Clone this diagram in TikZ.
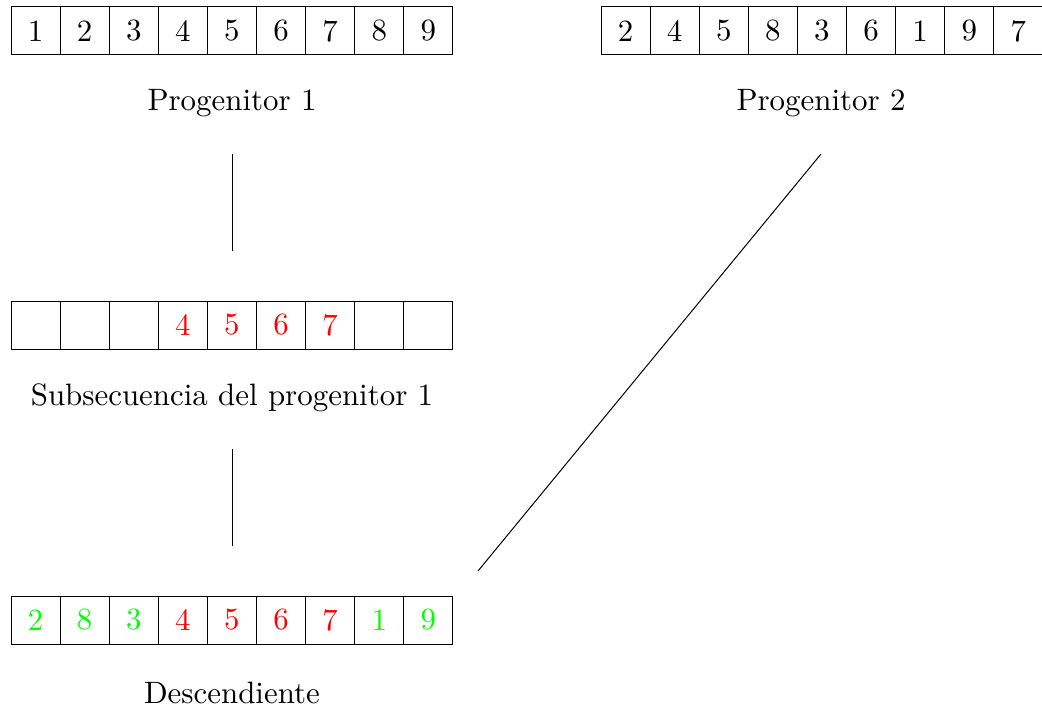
\documentclass[tikz,border=0pt]{standalone}
\usepackage{graphicx}
\definecolor{pureRed}{RGB}{255,0,0}
\definecolor{pureGreen}{RGB}{0,255,0}
\newcommand{\bigtxt}[1]{\scalebox{1.546}{\fontsize{10}{12}\selectfont #1}}
\begin{document}
\begin{tikzpicture}[x=0.5pt,y=-0.5pt,
  cell/.style={draw, line width=0.5pt, minimum width=24.55pt, minimum height=24pt, inner sep=0pt},
  lab/.style={inner sep=0pt},
  conn/.style={line width=0.5pt}]
\useasboundingbox (0,0) rectangle (1042,717);
% Progenitor 1
\foreach \v [count=\i] in {1,2,3,4,5,6,7,8,9}
  \node[cell] (a\i) at ({11+49.1*(\i-0.5)},31) {\bigtxt{\v}};
% Progenitor 2
\foreach \v [count=\i] in {2,4,5,8,3,6,1,9,7}
  \node[cell] (b\i) at ({601+49.1*(\i-0.5)},31) {\bigtxt{\v}};
% Subsequence
\foreach \v [count=\i] in {{},{},{},4,5,6,7,{},{}}
  \node[cell, text=pureRed] (s\i) at ({11+49.1*(\i-0.5)},325) {\bigtxt{\v}};
% Offspring
\foreach \v/\c [count=\i] in {2/pureGreen,8/pureGreen,3/pureGreen,4/pureRed,5/pureRed,6/pureRed,7/pureRed,1/pureGreen,9/pureGreen}
  \node[cell, text=\c] (d\i) at ({11+49.1*(\i-0.5)},620) {\bigtxt{\v}};
% Labels
\node[lab] (l1) at (232,103) {\bigtxt{Progenitor 1}};
\node[lab] (l2) at (821,103) {\bigtxt{Progenitor 2}};
\node[lab] (l3) at (232,398) {\bigtxt{Subsecuencia del progenitor 1}};
\node[lab] (l4) at (232,693) {\bigtxt{Descendiente}};
% Connectors
\coordinate (p1a) at (232,154);
\coordinate (p1b) at (232,251);
\coordinate (p2a) at (232,449);
\coordinate (p2b) at (232,546);
\coordinate (p3a) at (821,154);
\coordinate (p3b) at (478,571);
\draw[conn] (p1a) -- (p1b);
\draw[conn] (p2a) -- (p2b);
\draw[conn] (p3a) -- (p3b);
\end{tikzpicture}
\end{document}
